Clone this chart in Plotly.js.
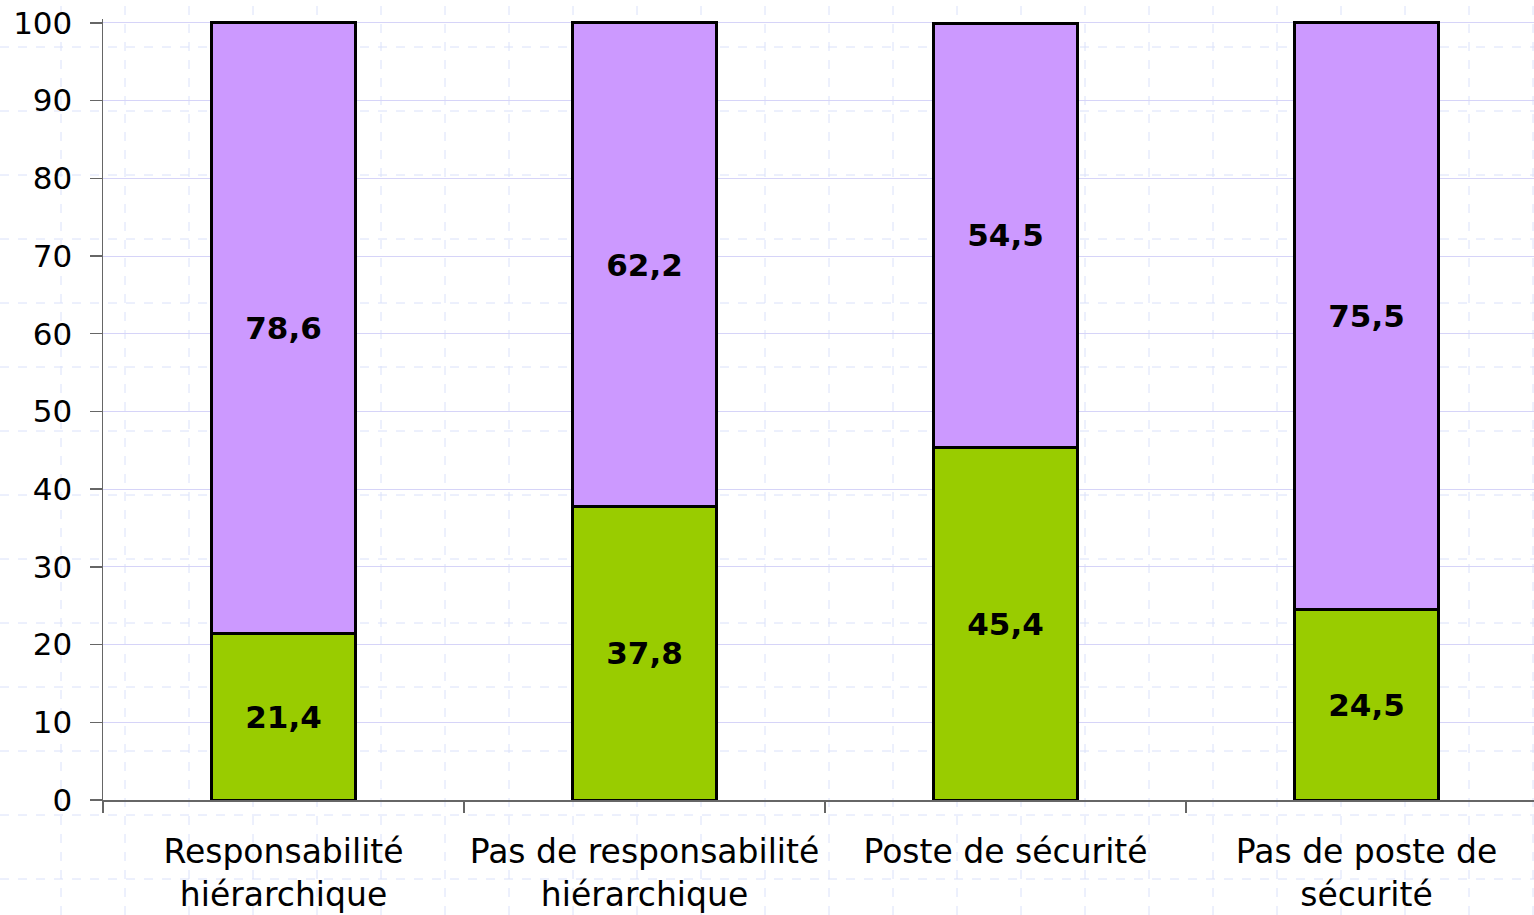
<!DOCTYPE html>
<html>
<head>
<meta charset="utf-8">
<script src="https://cdn.plot.ly/plotly-3.0.1.min.js"></script>
<style>html,body{margin:0;padding:0;background:#fff;}#chart{width:1534px;height:915px;}</style>
</head>
<body>
<div id="chart"></div>
<script>
const categories = ["Responsabilité<br>hiérarchique", "Pas de responsabilité<br>hiérarchique", "Poste de sécurité", "Pas de poste de<br>sécurité"];
const greenValues = [21.4, 37.8, 45.4, 24.5];
const purpleValues = [78.6, 62.2, 54.5, 75.5];
const yTicks = [0, 10, 20, 30, 40, 50, 60, 70, 80, 90, 100];

const W = 1534, H = 915;
const mL = 103, mR = 0, mT = 19, mB = 115;
const plotW = W - mL - mR, plotH = H - mT - mB;

// decorative dashed background grid (page "graph paper")
const shapes = [];
const bgColor = '#dae1fa';
for (let px = 61; px < W; px += 64) {
  const xp = (px - mL) / plotW;
  shapes.push({type: 'line', xref: 'paper', yref: 'paper', layer: 'below',
    x0: xp, x1: xp, y0: -mB / plotH, y1: 1 + mT / plotH,
    line: {color: bgColor, width: 1, dash: 'dash'}});
}
for (let py = 47; py < H; py += 64) {
  const yp = (mT + plotH - py) / plotH;
  shapes.push({type: 'line', xref: 'paper', yref: 'paper', layer: 'below',
    x0: -mL / plotW, x1: 1 + mR / plotW, y0: yp, y1: yp,
    line: {color: bgColor, width: 1, dash: 'dash'}});
}

const barLine = {color: '#000000', width: 3};
const labelFont = {family: 'DejaVu Sans', size: 31, color: '#000000', weight: 'bold'};

const traces = [
  {type: 'bar', x: categories, y: greenValues, name: 'green',
   marker: {color: '#99cc00', line: barLine}, width: 0.4,
   texttemplate: '<b>%{y:.1f}</b>', textposition: 'inside', insidetextanchor: 'middle',
   textangle: 0, constraintext: 'none', textfont: labelFont, hoverinfo: 'skip'},
  {type: 'bar', x: categories, y: purpleValues, name: 'purple',
   marker: {color: '#cc99ff', line: barLine}, width: 0.4,
   texttemplate: '<b>%{y:.1f}</b>', textposition: 'inside', insidetextanchor: 'middle',
   textangle: 0, constraintext: 'none', textfont: labelFont, hoverinfo: 'skip'}
];

const layout = {
  width: W, height: H,
  margin: {l: mL, r: mR, t: mT, b: mB, pad: 0},
  barmode: 'stack',
  showlegend: false,
  separators: ', ',
  paper_bgcolor: '#ffffff',
  plot_bgcolor: 'rgba(0,0,0,0)',
  font: {family: 'DejaVu Sans', color: '#000000'},
  hovermode: false,
  xaxis: {
    type: 'category',
    range: [-0.5, 3.464],
    tickson: 'boundaries',
    ticks: 'outside', ticklen: 11, tickwidth: 1.5, tickcolor: '#666666',
    showline: true, linecolor: '#666666', linewidth: 1.5,
    showgrid: false, zeroline: false,
    tickfont: {family: 'DejaVu Sans', size: 33, color: '#000000'},
    ticklabelstandoff: 22,
    fixedrange: true
  },
  yaxis: {
    range: [0, 100.5],
    tickvals: yTicks,
    ticktext: yTicks.map(String),
    ticks: 'outside', ticklen: 12, tickwidth: 1.5, tickcolor: '#666666',
    showline: true, linecolor: '#666666', linewidth: 1.5,
    showgrid: true, gridcolor: '#d6d4f8', gridwidth: 1,
    zeroline: false,
    tickfont: {family: 'DejaVu Sans', size: 31, color: '#000000'},
    ticklabelstandoff: 11,
    fixedrange: true
  },
  shapes: shapes
};

Plotly.newPlot('chart', traces, layout, {displayModeBar: false, staticPlot: true});
</script>
</body>
</html>
